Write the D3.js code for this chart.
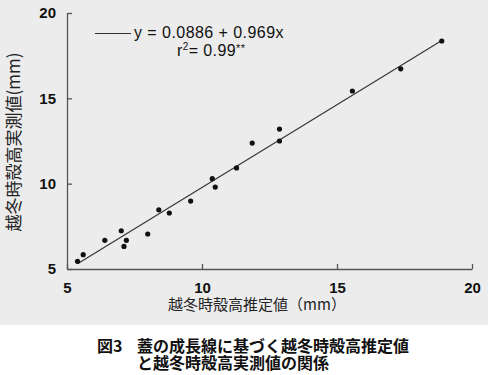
<!DOCTYPE html>
<html>
<head>
<meta charset="utf-8">
<script src="https://cdn.jsdelivr.net/npm/d3@7"></script>
<style>
  body { margin: 0; background: #fff; }
  svg { display: block; }
</style>
</head>
<body>
<svg width="488" height="375"></svg>
<script>
var estimated = [5.39, 5.60, 6.40, 7.01, 7.11, 7.20, 7.99, 8.40, 8.79, 9.58, 10.38, 10.49, 11.28, 11.86, 12.87, 12.87, 15.57, 17.36, 18.88];
var measured  = [5.45, 5.84, 6.68, 7.24, 6.32, 6.68, 7.05, 8.47, 8.28, 8.98, 10.29, 9.80, 10.92, 12.38, 13.20, 12.50, 15.43, 16.73, 18.36];
var xTicks = [5, 10, 15, 20];
var yTicks = [5, 10, 15, 20];
var intercept = 0.0886, slope = 0.969;

var svg = d3.select("svg");
var margin = {"top": 13, "bottom": 106, "left": 67, "right": 16};
var width = +svg.attr("width") - margin.left - margin.right;
var height = +svg.attr("height") - margin.top - margin.bottom;

var x = d3.scaleLinear().domain([5, 20]).range([0, width]),
    y = d3.scaleLinear().domain([5, 20]).range([height, 0]);

// scanned grey page behind the plot
svg.append("rect")
    .attr("x", 0).attr("y", 0)
    .attr("width", 488).attr("height", 325)
    .attr("fill", "#ececec");

var container = svg.append("g")
    .attr("transform", "translate(" + margin.left + "," + margin.top + ")");

// X axis
var xAxis = container.append("g")
    .attr("transform", "translate(0," + height + ")")
    .call(d3.axisBottom(x).tickValues(xTicks).tickSize(-5).tickSizeOuter(0).tickPadding(13));

// Y axis
var yAxis = container.append("g")
    .call(d3.axisLeft(y).tickValues(yTicks).tickSize(-5).tickSizeOuter(0).tickPadding(11));

[xAxis, yAxis].forEach(function(a) {
  a.select(".domain").attr("stroke", "#555").attr("stroke-width", 1.3);
  a.selectAll(".tick line").attr("stroke", "#555").attr("stroke-width", 1.3);
  a.selectAll(".tick text")
      .attr("fill", "#111")
      .style("font-family", "'Liberation Sans', Arial, sans-serif")
      .style("font-weight", "bold")
      .style("font-size", "15px");
});

// regression line over the data range
var xr = d3.extent(estimated);
container.append("line")
    .attr("x1", x(xr[0])).attr("y1", y(intercept + slope * xr[0]))
    .attr("x2", x(xr[1])).attr("y2", y(intercept + slope * xr[1]))
    .attr("stroke", "#333")
    .attr("stroke-width", 1.1);

// points
container.selectAll(".dot").data(estimated)
  .enter().append("circle")
    .attr("class", "dot")
    .attr("cx", function(d) { return x(d); })
    .attr("cy", function(d, i) { return y(measured[i]); })
    .attr("r", 2.6)
    .attr("fill", "#111");

// legend
var lg = svg.append("g")
    .style("font-family", "'Liberation Sans', Arial, sans-serif")
    .attr("fill", "#111");
lg.append("line")
    .attr("x1", 95).attr("x2", 131).attr("y1", 33.5).attr("y2", 33.5)
    .attr("stroke", "#333").attr("stroke-width", 1.1);
lg.append("text")
    .attr("x", 134).attr("y", 38)
    .style("font-size", "16px")
    .style("letter-spacing", "0.45px")
    .text("y = " + intercept + " + " + slope + "x");
var r2 = lg.append("text")
    .attr("x", 177).attr("y", 56)
    .style("font-size", "16px")
    .style("letter-spacing", "0.4px");
r2.append("tspan").text("r");
r2.append("tspan").attr("dy", -6).style("font-size", "10px").text("2");
r2.append("tspan").attr("dy", 6).text("= 0.99");
r2.append("tspan").attr("dy", -4).style("font-size", "11px").text("**");

// axis titles
var jp = "'Noto Sans CJK JP', sans-serif";
svg.append("text")
    .attr("transform", "translate(20,142) rotate(-90)")
    .attr("text-anchor", "middle")
    .style("font-family", jp)
    .style("font-size", "17px")
    .attr("fill", "#222")
    .text("越冬時殻高実測値(mm)");

svg.append("text")
    .attr("x", 257).attr("y", 310)
    .attr("text-anchor", "middle")
    .style("font-family", jp)
    .style("font-size", "15px")
    .attr("fill", "#222")
    .text("越冬時殻高推定値（mm）");

// caption
var cap = svg.append("g")
    .style("font-family", jp)
    .style("font-size", "16px")
    .style("font-weight", "bold")
    .attr("fill", "#111");
cap.append("text").attr("x", 97).attr("y", 352).text("図3");
cap.append("text").attr("x", 137).attr("y", 352).text("蓋の成長線に基づく越冬時殻高推定値");
cap.append("text").attr("x", 137).attr("y", 369).text("と越冬時殻高実測値の関係");
</script>
</body>
</html>
